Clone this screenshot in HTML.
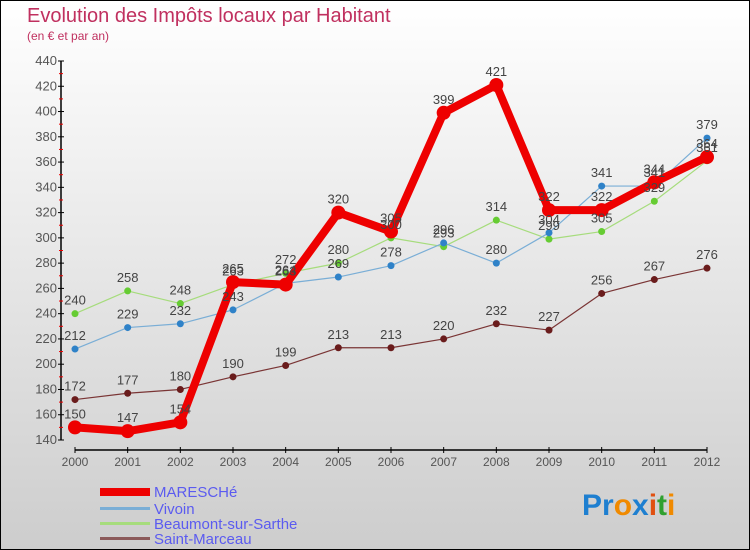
<!DOCTYPE html>
<html><head><meta charset="utf-8"><style>
body{margin:0;width:750px;height:550px;overflow:hidden}
svg{display:block;font-family:"Liberation Sans",sans-serif}
</style></head><body>
<svg id="c" width="750" height="550">
<defs><linearGradient id="bg" x1="0" y1="0" x2="0" y2="1"><stop offset="0" stop-color="#ffffff"/><stop offset="1" stop-color="#cdcdcd"/></linearGradient></defs>
<rect x="0.5" y="0.5" width="749" height="549" fill="url(#bg)" stroke="#000"/>
<text x="27" y="22" font-size="20" fill="#c0305f">Evolution des Impôts locaux par Habitant</text>
<text x="27" y="40" font-size="12" fill="#c0305f">(en € et par an)</text>
<g id="axes"></g><g id="series"></g><g id="labels"></g>
<g>
<rect x="100" y="488" width="50" height="8" fill="#e00"/>
<text x="154" y="497" font-size="15" fill="#5b5bf0">MARESCHé</text>
<rect x="100" y="507" width="50" height="3" fill="#7aaed6"/>
<text x="154" y="514" font-size="15" fill="#5b5bf0">Vivoin</text>
<rect x="100" y="522" width="50" height="3" fill="#a6dc7c"/>
<text x="154" y="529" font-size="15" fill="#5b5bf0">Beaumont-sur-Sarthe</text>
<rect x="100" y="537" width="50" height="3" fill="#8b5a5a"/>
<text x="154" y="544" font-size="15" fill="#5b5bf0">Saint-Marceau</text>
</g>
<text x="582" y="515" font-size="30" font-weight="bold"><tspan fill="#1e7fd0">Pr</tspan><tspan fill="#f08a00">o</tspan><tspan fill="#1e7fd0">x</tspan><tspan fill="#e05010">i</tspan><tspan fill="#30a030">t</tspan><tspan fill="#f08a00">i</tspan></text>
</svg>
<script>
const years=["2000","2001","2002","2003","2004","2005","2006","2007","2008","2009","2010","2011","2012"];
const yTicks=[140,160,180,200,220,240,260,280,300,320,340,360,380,400,420,440];
const maresche=[150,147,154,265,263,320,305,399,421,322,322,344,364];
const vivoin=[212,229,232,243,264,269,278,296,280,304,341,341,379];
const beaumont=[240,258,248,263,272,280,300,293,314,299,305,329,361];
const saintMarceau=[172,177,180,190,199,213,213,220,232,227,256,267,276];
const NS="http://www.w3.org/2000/svg";
function X(i){return 75+i*(707-75)/(years.length-1);}
function Y(v){return 61+(440-v)*(440-61)/300;}
function mk(t,a,p){const e=document.createElementNS(NS,t);for(const k in a)e.setAttribute(k,a[k]);p.appendChild(e);return e;}
const ax=document.getElementById('axes');
const ya=mk('line',{x1:61,y1:Y(440),x2:61,y2:Y(140),stroke:'#000','stroke-width':1.5},ax);


yTicks.forEach((v,i)=>{
 mk('line',{x1:58,x2:64,y1:Y(v),y2:Y(v),stroke:'#000'},ax);
 if(i<yTicks.length-1) mk('line',{x1:59,x2:63,y1:Y(v+10),y2:Y(v+10),stroke:'#e00'},ax);
 const t=mk('text',{x:57,y:Y(v)+4,'font-size':13,fill:'#555','text-anchor':'end'},ax);
 t.textContent=v;
 
 
});
const xa=mk('line',{x1:X(0),y1:450,x2:X(12),y2:450,stroke:'#000','stroke-width':1.5},ax);


years.forEach((y,i)=>{
 mk('line',{x1:X(i),x2:X(i),y1:447,y2:453,stroke:'#000'},ax);
 const t=mk('text',{x:X(i),y:466,'font-size':12,fill:'#555','text-anchor':'middle'},ax);
 t.textContent=y;
 
 
});
const sg=document.getElementById('series'),lg=document.getElementById('labels');
function draw(data,name,color,w,r,dot){
 const g=mk('g',{},sg);
 
 
 const pl=mk('polyline',{points:data.map((v,i)=>X(i)+','+Y(v)).join(' '),fill:'none',stroke:color,'stroke-width':w,'stroke-linejoin':'round'},g);
 
 
 data.forEach((v,i)=>{
  const c=mk('circle',{cx:X(i),cy:Y(v),r:r,fill:dot},g);
  
  
  const t=mk('text',{x:X(i),y:Y(v)-9,'font-size':13,fill:'#444','text-anchor':'middle'},lg);
  t.textContent=v;
  
  
 });
}
draw(saintMarceau,'saint-marceau','#7a3535',1.2,3.5,'#6a1c1c');
draw(beaumont,'beaumont','#a6dc7c',1.2,3.5,'#66cc33');
draw(vivoin,'vivoin','#7aaed6',1.2,3.5,'#2f82c8');
draw(maresche,'maresche','#ee0000',8,7,'#ee0000');
</script>
</body></html>
